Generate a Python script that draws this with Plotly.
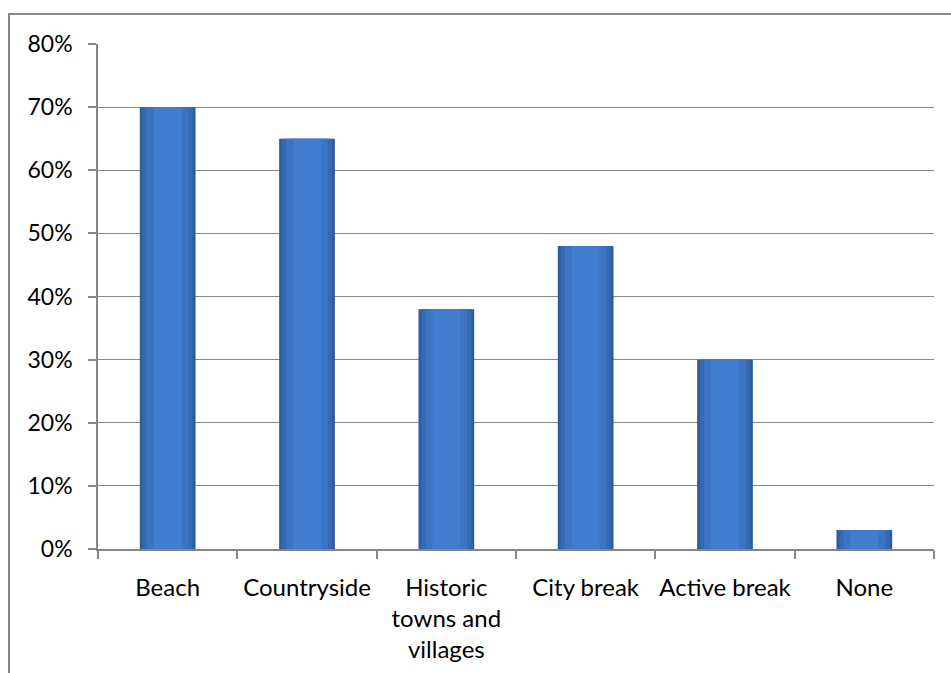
import plotly.graph_objects as go

categories = ["Beach", "Countryside", "Historic<br>towns and<br>villages", "City break", "Active break", "None"]
values = [0.70, 0.65, 0.38, 0.48, 0.30, 0.03]
y_ticks = [0, 0.1, 0.2, 0.3, 0.4, 0.5, 0.6, 0.7, 0.8]
y_tick_labels = ["0%", "10%", "20%", "30%", "40%", "50%", "60%", "70%", "80%"]

# layered bars to mimic the bevelled gradient look
layers = [
    (0.40, "#2C5D9E"),
    (0.36, "#3669B2"),
    (0.30, "#3B74C3"),
    (0.20, "#417ED0"),
]

fig = go.Figure()
for w, c in layers:
    fig.add_trace(go.Bar(
        x=categories, y=values, width=w,
        marker=dict(color=c, line=dict(width=0)),
        hoverinfo="x+y", showlegend=False,
    ))

font_family = "Lato, 'Open Sans', sans-serif"

fig.update_layout(
    width=951, height=673, autosize=False,
    margin=dict(l=98, r=17, t=44, b=124, autoexpand=False),
    paper_bgcolor="white", plot_bgcolor="white",
    barmode="overlay",
    font=dict(family=font_family, size=23, color="#000000"),
    xaxis=dict(
        showline=True, linecolor="#868686", linewidth=1.5,
        ticks="outside", tickson="boundaries", ticklen=8, tickcolor="#868686", tickwidth=1.5,
        showgrid=False, tickfont=dict(size=24), ticklabelstandoff=16,
        tickangle=0, automargin=False,
    ),
    yaxis=dict(
        range=[0, 0.8], tickvals=y_ticks, ticktext=y_tick_labels,
        showline=True, linecolor="#868686", linewidth=1.5,
        ticks="outside", ticklen=8, tickcolor="#868686", tickwidth=1.5,
        showgrid=True, gridcolor="#868686", gridwidth=1.2,
        zeroline=False, tickfont=dict(size=23), ticklabelstandoff=11,
        automargin=False,
    ),
    shapes=[dict(
        type="rect", xref="paper", yref="paper",
        x0=(9 - 98) / 836, x1=(975 - 98) / 836,
        y0=(549 - 700) / 505, y1=(549 - 14) / 505,
        line=dict(color="#878787", width=2), layer="below",
    )],
)

fig.write_html(
    "out.html",
    config={"displayModeBar": False, "responsive": False},
    post_script="document.body.style.margin='0px';document.body.style.overflow='hidden';",
)
